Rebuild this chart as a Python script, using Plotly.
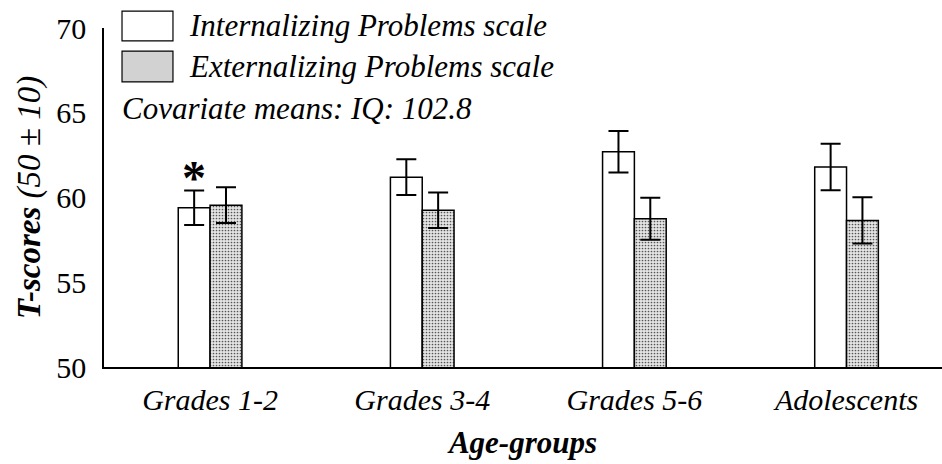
import plotly.graph_objects as go

# Age groups and scale means with standard errors
groups = ["Grades 1-2", "Grades 3-4", "Grades 5-6", "Adolescents"]
internalizing = [59.4, 61.2, 62.7, 61.8]
internalizing_se = [1.02, 1.05, 1.23, 1.37]
externalizing = [59.55, 59.25, 58.75, 58.65]
externalizing_se = [1.05, 1.05, 1.24, 1.36]
legend_labels = ["Internalizing Problems scale", "Externalizing Problems scale"]
covariate_note = "Covariate means: IQ: 102.8"
y_ticks = [50, 55, 60, 65, 70]

SERIF = "Liberation Serif"

fig = go.Figure()

fig.add_trace(go.Bar(
    x=groups, y=internalizing, name=legend_labels[0],
    marker=dict(color="white", line=dict(color="black", width=1.5)),
    error_y=dict(type="data", array=internalizing_se, color="black", thickness=2, width=10),
))
fig.add_trace(go.Bar(
    x=groups, y=externalizing, name=legend_labels[1],
    marker=dict(
        color="white", line=dict(color="black", width=1.5),
        pattern=dict(shape=".", fgcolor="#555555", bgcolor="#e4e4e4",
                     size=3, solidity=0.25, fillmode="replace"),
    ),
    error_y=dict(type="data", array=externalizing_se, color="black", thickness=2, width=10),
))

# Significance marker above the first internalizing bar
fig.add_annotation(
    x=groups[0], y=internalizing[0] + internalizing_se[0], xshift=-16, yshift=13,
    text="<b>*</b>", showarrow=False, yanchor="middle",
    font=dict(family=SERIF, size=48, color="black"),
)

# Hand-drawn legend: swatches and labels (partly above the plot area)
swatches = [
    dict(top=1.050, bottom=0.962, fill="white"),
    dict(top=0.932, bottom=0.841, fill="#d2d2d2"),
]
for sw, label in zip(swatches, legend_labels):
    fig.add_shape(type="rect", xref="paper", yref="paper",
                  x0=0.0215, x1=0.0823, y0=sw["bottom"], y1=sw["top"],
                  fillcolor=sw["fill"], line=dict(color="black", width=1.2))
    fig.add_annotation(xref="paper", yref="paper", x=0.0985,
                       y=(sw["top"] + sw["bottom"]) / 2, xanchor="left", yanchor="middle",
                       text=f"<i>{label}</i>", showarrow=False,
                       font=dict(family=SERIF, size=31, color="black"))
fig.add_annotation(xref="paper", yref="paper", x=0.0195, y=0.764,
                   xanchor="left", yanchor="middle",
                   text=f"<i>{covariate_note}</i>", showarrow=False,
                   font=dict(family=SERIF, size=31, color="black"))

fig.update_layout(
    width=942, height=464,
    margin=dict(l=104, r=0, t=28, b=97),
    paper_bgcolor="white", plot_bgcolor="white",
    barmode="group", bargap=0.7, bargroupgap=0,
    showlegend=False,
    font=dict(family=SERIF, color="black"),
    xaxis=dict(
        range=[-0.5, 3.45], showline=True, linecolor="black", linewidth=2,
        ticks="", showgrid=False, zeroline=False,
        tickfont=dict(family=SERIF, size=30), ticklabelstandoff=5,
        ticktext=[f"<i>{g}</i>" for g in groups], tickvals=groups,
        title=dict(text="<b><i>Age-groups</i></b>", font=dict(family=SERIF, size=31), standoff=16),
    ),
    yaxis=dict(
        range=[50, 70], tickvals=y_ticks, showline=True, linecolor="black", linewidth=1.5,
        ticks="", showgrid=False, zeroline=False,
        tickfont=dict(family=SERIF, size=30), ticklabelstandoff=10,
        title=dict(text="<b><i>T-scores</i></b><i> (50 ± 10)</i>",
                   font=dict(family=SERIF, size=33), standoff=6),
    ),
)

fig.write_html("out.html")
